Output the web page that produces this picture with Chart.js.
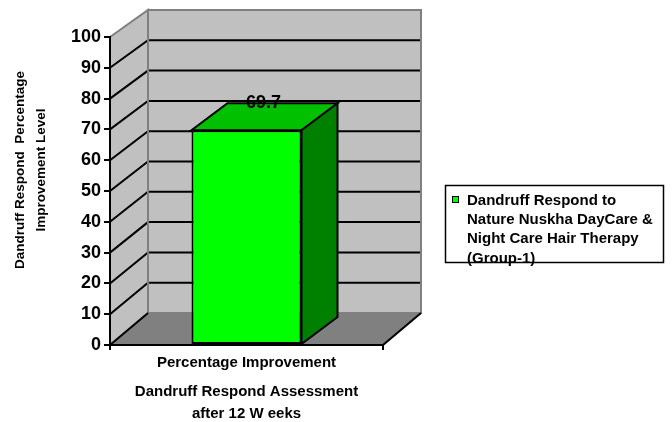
<!DOCTYPE html>
<html><head><meta charset="utf-8">
<script src="https://cdn.jsdelivr.net/npm/chart.js@4.4.0/dist/chart.umd.min.js"></script>
<style>html,body{margin:0;padding:0;background:#fff;}#wrap{position:relative;width:672px;height:422px;}</style>
</head><body><div id="wrap"><canvas id="c" width="672" height="422"></canvas></div>
<script>
const categories = ['Percentage Improvement'];
const seriesLabel = ['Dandruff Respond to', 'Nature Nuskha DayCare &', 'Night Care Hair Therapy', '(Group-1)'];
const seriesValues = [69.7];
const yMin = 0, yMax = 100, yStep = 10;
const yTitle = ['Dandruff Respond  Percentage', 'Improvement Level'];
const xTitle = ['Dandruff Respond Assessment', 'after 12 W eeks'];

const FONT = "'Liberation Sans', Arial, sans-serif";
const WALL_DX = 38, WALL_DY_TOP = -27, WALL_DY_BOT = -32;
const BAR_DX = 36, BAR_DY = -27;
const LW = 2;

function backY(fy, area) {
  const f = (fy - area.top) / (area.bottom - area.top);
  return fy + WALL_DY_TOP + (WALL_DY_BOT - WALL_DY_TOP) * f;
}
function poly(ctx, pts, fill, stroke, lw) {
  ctx.beginPath();
  ctx.moveTo(pts[0][0], pts[0][1]);
  for (let i = 1; i < pts.length; i++) ctx.lineTo(pts[i][0], pts[i][1]);
  ctx.closePath();
  if (fill) { ctx.fillStyle = fill; ctx.fill(); }
  if (stroke) { ctx.strokeStyle = stroke; ctx.lineWidth = lw || LW; ctx.lineJoin = 'miter'; ctx.stroke(); }
}

const walls3d = {
  id: 'walls3d',
  beforeDraw(chart) {
    const ctx = chart.ctx, a = chart.chartArea, ys = chart.scales.y;
    const L = a.left, R = a.right, T = a.top, B = a.bottom;
    const bT = backY(T, a), bB = backY(B, a);
    ctx.save();
    // back wall
    poly(ctx, [[L + WALL_DX, bT], [R + WALL_DX, bT], [R + WALL_DX, bB], [L + WALL_DX, bB]], '#c0c0c0', '#808080');
    // side wall
    poly(ctx, [[L, T], [L + WALL_DX, bT], [L + WALL_DX, bB], [L, B]], '#c0c0c0', null);
    // gridlines
    ctx.strokeStyle = '#000'; ctx.lineWidth = LW;
    for (let v = yMin + yStep; v < yMax; v += yStep) {
      const fy = ys.getPixelForValue(v), by = backY(fy, a);
      ctx.beginPath();
      ctx.moveTo(L, fy); ctx.lineTo(L + WALL_DX, by);
      ctx.lineTo(R + WALL_DX - 1, by);
      ctx.stroke();
    }
    // side top edge + corner line
    ctx.strokeStyle = '#808080';
    ctx.beginPath(); ctx.moveTo(L, T); ctx.lineTo(L + WALL_DX, bT); ctx.lineTo(L + WALL_DX, bB); ctx.stroke();
    // floor
    poly(ctx, [[L, B], [R, B], [R + WALL_DX, bB], [L + WALL_DX, bB]], '#808080', null);
    ctx.strokeStyle = '#000';
    ctx.beginPath(); ctx.moveTo(R, B); ctx.lineTo(R + WALL_DX, bB); ctx.stroke();
    ctx.beginPath(); ctx.moveTo(L, B); ctx.lineTo(L + WALL_DX, bB); ctx.stroke();
    ctx.restore();
  },
  afterDatasetsDraw(chart) {
    const ctx = chart.ctx;
    const meta = chart.getDatasetMeta(0);
    ctx.save();
    meta.data.forEach((bar, i) => {
      const l = bar.x - bar.width / 2, r = bar.x + bar.width / 2;
      const t = Math.min(bar.y, bar.base), b = Math.max(bar.y, bar.base);
      poly(ctx, [[l, t], [r, t], [r + BAR_DX, t + BAR_DY], [l + BAR_DX, t + BAR_DY]], '#00c000', '#000');
      poly(ctx, [[r, t], [r + BAR_DX, t + BAR_DY], [r + BAR_DX, b + BAR_DY], [r, b]], '#008000', '#000');
      ctx.fillStyle = '#000';
      ctx.font = 'bold 18px ' + FONT;
      ctx.textAlign = 'center';
      ctx.textBaseline = 'alphabetic';
      ctx.fillText(String(chart.data.datasets[0].data[i]), bar.x + 17, t - 22.5);
    });
    ctx.restore();
  },
  afterDraw(chart) {
    const ctx = chart.ctx;
    ctx.save();
    // y title
    ctx.fillStyle = '#000';
    ctx.font = 'bold 13.5px ' + FONT;
    ctx.textAlign = 'center';
    ctx.textBaseline = 'middle';
    const xs = [20, 41.5];
    yTitle.forEach((line, i) => {
      ctx.save();
      ctx.translate(xs[i], 170);
      ctx.rotate(-Math.PI / 2);
      ctx.fillText(line, 0, 0);
      ctx.restore();
    });
    // legend
    ctx.strokeStyle = '#000'; ctx.lineWidth = 1.5;
    ctx.strokeRect(445.5, 185.5, 218, 77);
    ctx.fillStyle = chart.data.datasets[0].backgroundColor;
    ctx.fillRect(452, 196, 7, 7);
    ctx.lineWidth = 1;
    ctx.strokeRect(452.5, 196.5, 6, 6);
    ctx.fillStyle = '#000';
    ctx.font = 'bold 15px ' + FONT;
    ctx.textAlign = 'left';
    ctx.textBaseline = 'alphabetic';
    const lines = chart.data.datasets[0].label;
    lines.forEach((ln, i) => ctx.fillText(ln, 467, 205 + i * 19.2));
    ctx.restore();
  }
};

new Chart(document.getElementById('c'), {
  type: 'bar',
  data: {
    labels: categories,
    datasets: [{
      label: seriesLabel,
      data: seriesValues,
      backgroundColor: '#00ff00',
      borderColor: '#000',
      borderWidth: 2,
      borderSkipped: false,
      categoryPercentage: 1,
      barPercentage: 0.403
    }]
  },
  options: {
    responsive: false,
    animation: false,
    devicePixelRatio: 1,
    layout: { padding: { left: 0, top: 37, right: 289, bottom: 0 } },
    plugins: { legend: { display: false }, tooltip: { enabled: false } },
    scales: {
      x: {
        ticks: { color: '#000', font: { family: FONT, size: 15, weight: 'bold' }, padding: 4 },
        grid: { offset: true, drawOnChartArea: false, drawTicks: true, tickLength: 5, color: '#000', lineWidth: 2 },
        border: { display: true, color: '#000', width: 2 },
        title: { display: true, text: xTitle, color: '#000', font: { family: FONT, size: 15, weight: 'bold', lineHeight: 1.47 }, padding: { top: 4, bottom: -3 } },
        afterFit(s) { s.height = 77; }
      },
      y: {
        min: yMin, max: yMax,
        ticks: { stepSize: yStep, color: '#000', font: { family: FONT, size: 18, weight: 'bold' }, padding: 3 },
        grid: { drawOnChartArea: false, drawTicks: true, tickLength: 6, color: '#000', lineWidth: 2 },
        border: { display: true, color: '#000', width: 2 },
        afterFit(s) { s.width = 110; }
      }
    }
  },
  plugins: [walls3d]
});
</script></body></html>
